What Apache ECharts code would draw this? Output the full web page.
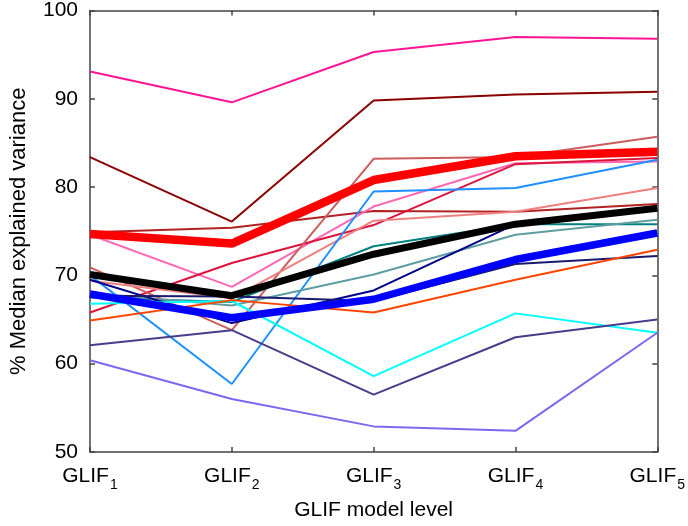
<!DOCTYPE html>
<html>
<head>
<meta charset="utf-8">
<script src="https://cdn.jsdelivr.net/npm/echarts@6/dist/echarts.min.js"></script>
<style>
html,body{margin:0;padding:0;background:#fff;}
#chart{width:688px;height:526px;}
</style>
</head>
<body>
<div id="chart"></div>
<script>
// ---- data ----
const categories = ['GLIF1', 'GLIF2', 'GLIF3', 'GLIF4', 'GLIF5'];
const yTicks = [50, 60, 70, 80, 90, 100];

const deepPink      = [93.1, 89.6, 95.3, 97.0, 96.8];
const darkRed       = [83.4, 76.1, 89.8, 90.5, 90.8];
const fireBrick     = [74.9, 75.4, 77.3, 77.2, 78.1];
const hotPink       = [74.6, 68.7, 77.8, 82.7, 82.9];
const crimson       = [65.8, 71.4, 75.7, 82.6, 83.3];
const indianRed     = [70.9, 63.8, 83.2, 83.4, 85.7];
const lightCoral    = [69.4, 67.4, 76.2, 77.2, 79.9];
const dodgerBlue    = [70.0, 57.7, 79.5, 79.9, 83.1];
const teal          = [67.5, 67.0, 73.3, 75.8, 75.8];
const cadetBlue     = [68.0, 66.6, 70.1, 74.6, 76.3];
const navy          = [69.5, 64.6, 68.3, 75.8, 77.4];
const midnightBlue  = [67.7, 67.6, 67.1, 71.3, 72.2];
const cyan          = [66.8, 67.1, 58.6, 65.7, 63.5];
const orangeRed     = [64.9, 67.2, 65.8, 69.5, 72.9];
const darkSlateBlue = [62.1, 63.8, 56.5, 63.0, 65.0];
const medSlateBlue  = [60.4, 56.0, 52.9, 52.4, 63.5];
const meanBlue      = [67.9, 65.2, 67.3, 71.8, 74.8];
const meanRed       = [74.7, 73.6, 80.8, 83.5, 84.0];
const meanBlack     = [70.1, 67.7, 72.4, 75.8, 77.6];

const thin = [
  ['deepPink', deepPink, '#FF1493'],
  ['darkRed', darkRed, '#8B0000'],
  ['fireBrick', fireBrick, '#B22222'],
  ['hotPink', hotPink, '#FF69B4'],
  ['crimson', crimson, '#DC143C'],
  ['indianRed', indianRed, '#CD5C5C'],
  ['lightCoral', lightCoral, '#F08080'],
  ['dodgerBlue', dodgerBlue, '#1E90FF'],
  ['teal', teal, '#008080'],
  ['cadetBlue', cadetBlue, '#5F9EA0'],
  ['navy', navy, '#00008B'],
  ['midnightBlue', midnightBlue, '#191970'],
  ['cyan', cyan, '#00FFFF'],
  ['orangeRed', orangeRed, '#FF4500'],
  ['darkSlateBlue', darkSlateBlue, '#483D8B'],
  ['medSlateBlue', medSlateBlue, '#7B68EE']
];
const thick = [
  ['meanBlue', meanBlue, '#0000FF', 7.5],
  ['meanRed', meanRed, '#FF0000', 8.5],
  ['meanBlack', meanBlack, '#000000', 7]
];

const FONT = 'Liberation Sans, Arial, Helvetica, sans-serif';
const series = [];
thin.forEach(([n, d, c]) => series.push({
  name: n, type: 'line', data: d, symbol: 'none', silent: true,
  lineStyle: { color: c, width: 2 }
}));
thick.forEach(([n, d, c, w]) => series.push({
  name: n, type: 'line', data: d, symbol: 'none', silent: true,
  lineStyle: { color: c, width: w }
}));

const axisLine = { show: true, lineStyle: { color: '#444', width: 1.5 } };
const tick = { show: true, inside: true, length: 5, lineStyle: { color: '#444', width: 1.5 } };

const chart = echarts.init(document.getElementById('chart'), null, { renderer: 'canvas' });
chart.setOption({
  animation: false,
  backgroundColor: '#fff',
  grid: { left: 83, right: 28, top: 7, bottom: 73, containLabel: false },
  xAxis: [{
    type: 'category', data: categories, boundaryGap: false,
    axisLine: axisLine, axisTick: Object.assign({ alignWithLabel: true }, tick),
    splitLine: { show: false },
    name: 'GLIF model level', nameLocation: 'middle', nameGap: 48,
    nameTextStyle: { fontSize: 21, color: '#000', fontFamily: FONT },
    axisLabel: {
      margin: 14, color: '#000', fontFamily: FONT,
      formatter: v => '{a|' + v.slice(0, 4) + '}{b|' + v.slice(4) + '}',
      rich: {
        a: { fontSize: 21, lineHeight: 22, verticalAlign: 'top', fontFamily: FONT, color: '#000' },
        b: { fontSize: 14, lineHeight: 14, verticalAlign: 'top', padding: [12, 0, 0, 1], fontFamily: FONT, color: '#000' }
      }
    }
  }, {
    type: 'category', data: categories, boundaryGap: false, position: 'top',
    axisLine: axisLine, axisTick: tick, axisLabel: { show: false }, splitLine: { show: false }
  }],
  yAxis: [{
    type: 'value', min: yTicks[0], max: yTicks[yTicks.length - 1], interval: 10,
    axisLine: axisLine, axisTick: tick, splitLine: { show: false },
    axisLabel: { margin: 12, fontSize: 21, color: '#000', fontFamily: FONT },
    name: '% Median explained variance', nameLocation: 'middle', nameGap: 60,
    nameTextStyle: { fontSize: 22, color: '#000', fontFamily: FONT }
  }, {
    type: 'value', min: yTicks[0], max: yTicks[yTicks.length - 1], interval: 10, position: 'right',
    axisLine: axisLine, axisTick: tick, splitLine: { show: false }, axisLabel: { show: false }
  }],
  series: series
});
</script>
</body>
</html>
